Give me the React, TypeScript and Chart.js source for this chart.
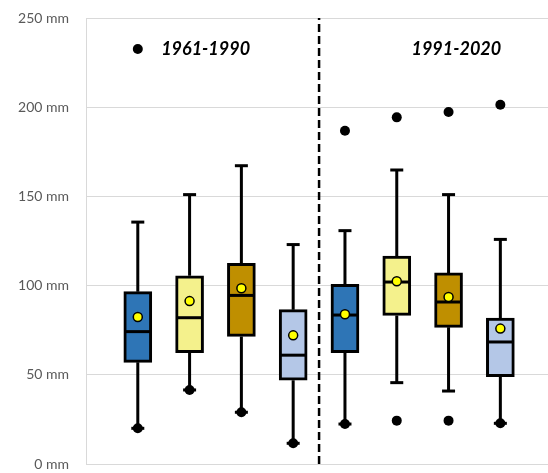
import { useEffect, useRef } from 'react';
import { Chart, registerables } from 'chart.js';

Chart.register(...registerables);

// ---- data ----
const boxPositions = [1, 2, 3, 4, 5, 6, 7, 8];
const periodLabels = ['1961-1990', '1991-2020'];
const whiskerLow = [20, 41.5, 29, 11.6, 22.4, 45.6, 40.9, 22.8];
const q1 = [57, 62.4, 71.5, 47, 62.4, 83.3, 76.6, 48.9];
const median = [74.2, 82, 94.5, 61, 83.5, 102, 90.8, 68.4];
const q3 = [96.6, 105.5, 112.5, 86.5, 100.7, 116.6, 107.1, 81.8];
const whiskerHigh = [135.6, 151, 167.2, 123, 130.8, 164.8, 151, 125.9];
const means = [82.4, 91.3, 98.5, 72.1, 83.9, 102.4, 93.6, 75.9];
const outliersHigh = [232.6, null, null, null, 186.8, 194.3, 197.3, 201.4];
const outliersLow = [20, 41.5, 29, 11.6, 22.4, 24.3, 24.3, 22.8];
const yTicks = [0, 50, 100, 150, 200, 250];
const tickUnit = ' mm';

// ---- styles ----
const boxColors = ['#2e75b6', '#f4f18c', '#bf8f00', '#b4c7e7', '#2e75b6', '#f4f18c', '#bf8f00', '#b4c7e7'];
const labelPositions = { x: [2.31, 7.15], y: 232.6 };

export default function App() {
  const canvasRef = useRef<HTMLCanvasElement | null>(null);

  useEffect(() => {
    if (!canvasRef.current) return;

    const whiskerData: { x: number; y: number | null }[] = [];
    boxPositions.forEach((x, i) => {
      whiskerData.push(
        { x, y: whiskerLow[i] },
        { x, y: q1[i] },
        { x, y: null },
        { x, y: q3[i] },
        { x, y: whiskerHigh[i] },
        { x, y: null }
      );
    });
    const capData = boxPositions.flatMap((x, i) => [
      { x, y: whiskerLow[i] },
      { x, y: whiskerHigh[i] },
    ]);
    const outlierData: { x: number; y: number }[] = [];
    boxPositions.forEach((x, i) => {
      if (outliersHigh[i] != null) outlierData.push({ x, y: outliersHigh[i] as number });
      if (outliersLow[i] != null) outlierData.push({ x, y: outliersLow[i] as number });
    });

    const periodLabelPlugin = {
      id: 'periodLabels',
      afterDatasetsDraw(chart: any) {
        const { ctx, scales } = chart;
        ctx.save();
        ctx.font = 'italic bold 18px Lato';
        ctx.fillStyle = '#000000';
        ctx.textAlign = 'center';
        ctx.textBaseline = 'middle';
        periodLabels.forEach((t, i) => {
          ctx.fillText(t, scales.x.getPixelForValue(labelPositions.x[i]), scales.y.getPixelForValue(labelPositions.y));
        });
        ctx.restore();
      },
    };

    const chart = new Chart(canvasRef.current, {
      type: 'bar',
      data: {
        datasets: [
          {
            type: 'scatter',
            label: 'mean',
            data: boxPositions.map((x, i) => ({ x, y: means[i] })),
            pointStyle: 'circle',
            pointRadius: 4.5,
            pointBackgroundColor: '#ffff00',
            pointBorderColor: '#000000',
            pointBorderWidth: 1.5,
            order: 0,
          } as any,
          {
            type: 'scatter',
            label: 'median',
            data: boxPositions.map((x, i) => ({ x, y: median[i] })),
            pointStyle: 'line',
            pointRadius: 12.5,
            pointBorderColor: '#000000',
            pointBorderWidth: 3,
            order: 1,
          } as any,
          {
            type: 'bar',
            label: 'box',
            data: boxPositions.map((x, i) => ({ x, y: [q1[i], q3[i]] })),
            backgroundColor: boxColors,
            borderColor: '#000000',
            borderWidth: 3,
            borderSkipped: false,
            barThickness: 28,
            order: 2,
          } as any,
          {
            type: 'scatter',
            label: 'caps',
            data: capData,
            pointStyle: 'line',
            pointRadius: 6.5,
            pointBorderColor: '#000000',
            pointBorderWidth: 3,
            order: 3,
          } as any,
          {
            type: 'scatter',
            label: 'outliers',
            data: outlierData,
            pointStyle: 'circle',
            pointRadius: 5,
            pointBackgroundColor: '#000000',
            pointBorderColor: '#000000',
            pointBorderWidth: 0,
            order: 3,
          } as any,
          {
            type: 'line',
            label: 'whiskers',
            data: whiskerData,
            borderColor: '#000000',
            borderWidth: 3,
            pointRadius: 0,
            spanGaps: false,
            order: 5,
          } as any,
          {
            type: 'line',
            label: 'divider',
            data: [
              { x: 4.5, y: 0 },
              { x: 4.5, y: 250 },
            ],
            borderColor: '#000000',
            borderWidth: 2.5,
            borderDash: [8, 4],
            pointRadius: 0,
            order: 6,
          } as any,
        ],
      },
      options: {
        animation: false,
        responsive: false,
        devicePixelRatio: 1,
        layout: { autoPadding: false, padding: { top: 18, bottom: 9, left: 0, right: 0 } },
        plugins: {
          legend: { display: false },
          tooltip: { enabled: false },
        },
        scales: {
          x: {
            type: 'linear',
            display: false,
            offset: false,
            min: 0,
            max: 8.92,
            grid: { offset: false },
          },
          y: {
            min: 0,
            max: 250,
            afterFit: (scale: any) => {
              scale.width = 86;
            },
            afterBuildTicks: (scale: any) => {
              scale.ticks = yTicks.map((v) => ({ value: v }));
            },
            ticks: {
              padding: 0,
              color: '#595959',
              font: { family: 'Lato', size: 14 },
              callback: (v: any) => `${v}${tickUnit}`,
            },
            grid: {
              color: '#d9d9d9',
              lineWidth: 1,
              drawTicks: true,
              tickLength: 17,
              tickColor: 'rgba(0,0,0,0)',
            },
            border: { display: true, color: '#d9d9d9', width: 1 },
          },
        },
      } as any,
      plugins: [periodLabelPlugin],
    });

    return () => chart.destroy();
  }, []);

  return (
    <div style={{ position: 'fixed', left: 0, top: 0, width: 548, height: 473, background: '#ffffff' }}>
      <canvas ref={canvasRef} width={548} height={473} />
    </div>
  );
}
